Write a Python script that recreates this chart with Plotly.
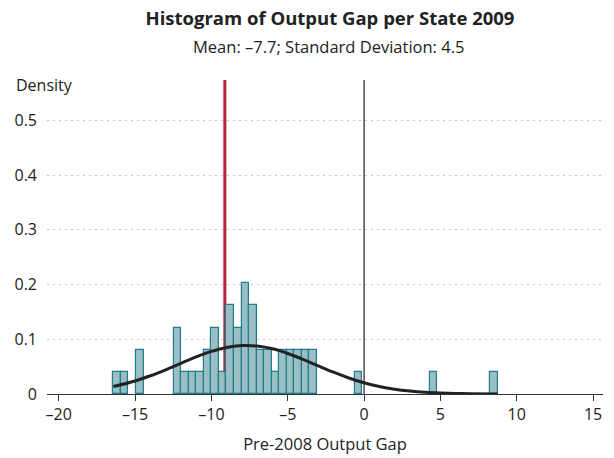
import plotly.graph_objects as go

# Histogram bins (centers, density); bin width ~0.494
bin_width = 0.4937
bin_centers = [-16.17, -15.68, -14.69, -12.22, -11.73, -11.24, -10.74, -10.25, -9.76,
               -9.26, -8.77, -8.27, -7.78, -7.29, -6.79, -6.30, -5.81, -5.31, -4.82,
               -4.32, -3.83, -3.34, -0.38, 4.56, 8.51]
densities = [0.0405, 0.0405, 0.081, 0.1215, 0.0405, 0.0405, 0.0405, 0.081, 0.1215,
             0.0405, 0.162, 0.1215, 0.2025, 0.162, 0.081, 0.081, 0.0405, 0.081, 0.081,
             0.081, 0.081, 0.081, 0.0405, 0.0405, 0.0405]

# Normal density curve points (mean -7.7, sd 4.5)
curve_x = [-16.42, -15, -14, -13, -12, -11, -10, -9, -8, -7.7, -7, -6, -5, -4, -3, -2, -1,
           0, 1, 2, 3, 4, 5, 6, 7, 8.76]
curve_y = [0.0136, 0.0238, 0.0333, 0.0443, 0.0561, 0.0678, 0.0778, 0.0851, 0.0885, 0.0887,
           0.0876, 0.0826, 0.0741, 0.0633, 0.0514, 0.0398, 0.0293, 0.0205, 0.0137, 0.0087,
           0.0053, 0.0030, 0.0017, 0.0009, 0.0004, 0.0001]

red_line_x = -9.12
zero_line_x = 0

x_ticks = [-20, -15, -10, -5, 0, 5, 10, 15]
x_tick_labels = ["\u201320", "\u201315", "\u201310", "\u20135", "0", "5", "10", "15"]
y_ticks = [0, 0.1, 0.2, 0.3, 0.4, 0.5]
y_tick_labels = ["0", "0.1", "0.2", "0.3", "0.4", "0.5"]

FONT = "Open Sans"
y_top = 0.574
L, R, T, B = 47, 11, 80, 64
PH = 458 - T - B
PW = 614 - L - R

fig = go.Figure()
fig.add_trace(go.Bar(
    x=bin_centers, y=densities, width=bin_width,
    marker=dict(color="rgba(148,186,194,0.95)", line=dict(color="#1f7d8c", width=1.2)),
    showlegend=False, hoverinfo="skip",
))
fig.add_trace(go.Scatter(
    x=curve_x, y=curve_y, mode="lines",
    line=dict(color="#222222", width=3, shape="spline"),
    showlegend=False, hoverinfo="skip",
))

fig.add_shape(type="line", x0=red_line_x, x1=red_line_x, y0=0, y1=y_top,
              xref="x", yref="y", line=dict(color="#b8203c", width=3), layer="below")
fig.add_shape(type="line", x0=zero_line_x, x1=zero_line_x, y0=0, y1=y_top,
              xref="x", yref="y", line=dict(color="#222222", width=1.2), layer="below")

fig.update_layout(
    width=614, height=458,
    margin=dict(l=L, r=R, t=T, b=B, autoexpand=False),
    paper_bgcolor="white", plot_bgcolor="white",
    font=dict(family=FONT, color="#222222", size=15),
    bargap=0,
    title=dict(
        text="<b>Histogram of Output Gap per State 2009</b>",
        x=330 / 614, xanchor="center", y=1 - 19 / 458, yanchor="middle",
        font=dict(size=18.5, family=FONT, color="#222222"),
    ),
    xaxis=dict(
        range=[-20.77, 15.65], tickvals=x_ticks, ticktext=x_tick_labels,
        showline=True, linecolor="#333333", linewidth=1,
        ticks="outside", ticklen=6, tickcolor="#333333", tickwidth=1,
        showgrid=False, zeroline=False, automargin=False,
        tickfont=dict(size=16),
        title=dict(text="Pre-2008 Output Gap", font=dict(size=16.5), standoff=14),
    ),
    yaxis=dict(
        range=[0, y_top], tickvals=y_ticks, ticktext=y_tick_labels,
        showline=False, ticks="", ticklabelstandoff=9, automargin=False,
        showgrid=True, gridcolor="#c4c4c4", griddash="2px,4px", gridwidth=1.3,
        zeroline=False, tickfont=dict(size=16),
    ),
)

fig.add_annotation(text="Mean: \u20137.7; Standard Deviation: 4.5",
                   xref="paper", yref="paper", x=(328 - L) / PW, y=(458 - B - 47) / PH,
                   xanchor="center", yanchor="middle", showarrow=False,
                   font=dict(size=16.5, family=FONT, color="#222222"))
fig.add_annotation(text="Density", xref="paper", yref="paper",
                   x=(14 - L) / PW, y=(458 - B - 85) / PH,
                   xanchor="left", yanchor="middle", showarrow=False,
                   font=dict(size=16, family=FONT, color="#222222"))

fig.write_html("out.html", config={"displayModeBar": False},
               post_script="document.body.style.margin='0';document.body.style.padding='0';")
